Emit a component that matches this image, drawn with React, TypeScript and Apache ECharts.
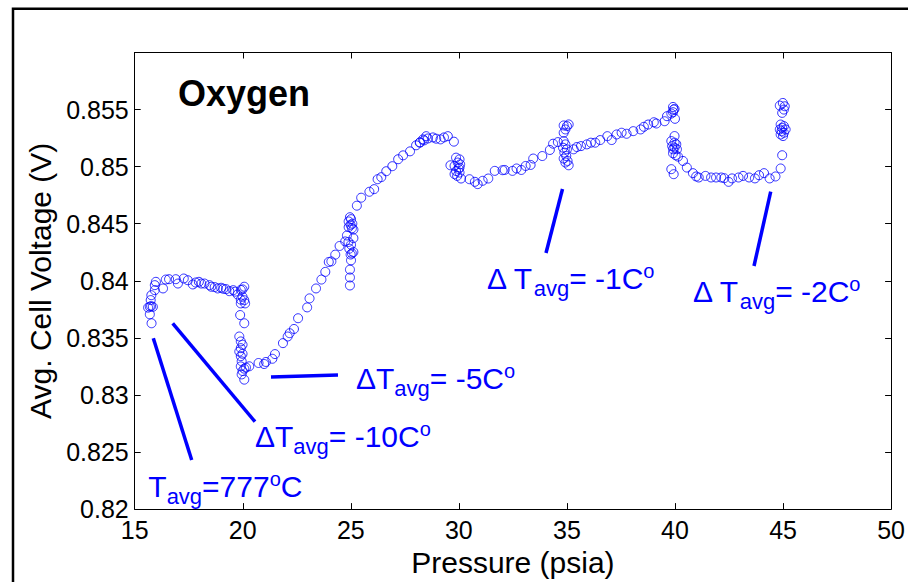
import React, { useEffect, useRef } from "react";
import * as echarts from "echarts";

// ---- data: [pressure (psia), avg. cell voltage (V)] ----
const startCluster: [number, number][] = [
  [15.78, 0.83628], [15.7, 0.83773], [15.62, 0.83765], [15.76, 0.83778], [15.84, 0.83772],
  [15.74, 0.83831], [15.77, 0.83874], [15.7, 0.83706], [15.93, 0.83962], [15.98, 0.83991], [15.93, 0.83918],
];
const plateau: [number, number][] = [
  [16.31, 0.83933], [16.44, 0.84011], [16.59, 0.84014], [16.9, 0.84014], [17.0, 0.83976], [17.27, 0.8402],
  [17.46, 0.84005], [17.69, 0.83968], [17.82, 0.83985], [17.97, 0.83991], [18.08, 0.83976], [18.23, 0.83976],
  [18.46, 0.83962], [18.54, 0.83948], [18.7, 0.83945], [18.84, 0.83933], [19.0, 0.83939], [19.1, 0.8393],
  [19.23, 0.83927], [19.38, 0.83909], [19.56, 0.83918], [19.65, 0.83905], [19.76, 0.8388],
];
const drop20: [number, number][] = [
  [20.07, 0.83948], [19.99, 0.83925], [19.91, 0.8392], [19.99, 0.8386], [20.07, 0.8383], [19.91, 0.83835],
  [19.91, 0.83802], [20.11, 0.83802], [19.88, 0.837], [20.07, 0.83628], [19.84, 0.83512], [19.91, 0.83469],
  [19.99, 0.8344], [19.91, 0.8341], [19.84, 0.8338], [19.99, 0.8336], [19.91, 0.8334], [19.95, 0.83295],
  [19.91, 0.8325], [20.07, 0.8323], [19.99, 0.8321], [19.95, 0.8318], [20.07, 0.83134], [20.15, 0.8324],
];
const climb21to25: [number, number][] = [
  [20.3, 0.83251], [20.73, 0.8328], [20.99, 0.83271], [21.07, 0.83289], [21.37, 0.83317], [21.49, 0.83358],
  [21.86, 0.83454], [22.08, 0.83512], [22.17, 0.83541], [22.37, 0.83578], [22.56, 0.83672], [22.98, 0.83767],
  [23.09, 0.83846], [23.39, 0.83933], [23.64, 0.84011], [23.82, 0.84078], [23.98, 0.84165], [24.1, 0.8417],
  [24.28, 0.84229], [24.48, 0.84305], [24.74, 0.84345], [24.82, 0.84397],
];
const step25: [number, number][] = [
  [24.96, 0.84557], [25.01, 0.8454], [24.9, 0.8452], [25.07, 0.845], [24.99, 0.8449], [24.9, 0.8447],
  [25.05, 0.8446], [25.12, 0.84449], [25.12, 0.84374], [24.89, 0.8434], [25.01, 0.84316], [24.93, 0.84281],
  [25.12, 0.84252], [25.05, 0.8424], [24.99, 0.8423], [25.01, 0.84179], [24.96, 0.84098], [24.96, 0.84029],
  [24.96, 0.83959],
];
const climb25to30: [number, number][] = [
  [25.28, 0.84658], [25.48, 0.84728], [25.86, 0.8478], [26.08, 0.84803], [26.24, 0.8489], [26.41, 0.84908],
  [26.64, 0.8496], [26.92, 0.85004], [27.19, 0.85065], [27.42, 0.85099], [27.74, 0.85134], [28.02, 0.85187],
  [28.19, 0.8521], [28.2, 0.85213], [28.34, 0.85239], [28.39, 0.8523], [28.49, 0.85267], [28.57, 0.85247],
  [28.8, 0.85256], [28.95, 0.85245], [29.15, 0.85239], [29.31, 0.85256], [29.49, 0.85267], [29.77, 0.85219],
];
const step30: [number, number][] = [
  [29.61, 0.85012], [29.87, 0.85079], [30.03, 0.85064], [29.95, 0.85036], [29.8, 0.85006], [30.03, 0.84992],
  [29.87, 0.84962], [30.03, 0.84948], [29.92, 0.84919], [30.1, 0.84896], [29.8, 0.84935], [29.99, 0.8498],
  [30.06, 0.8502],
];
const climb30to35: [number, number][] = [
  [30.49, 0.8489], [30.74, 0.84867], [30.87, 0.84847], [31.1, 0.84876], [31.36, 0.84896], [31.66, 0.84963],
  [32.02, 0.84969], [32.12, 0.84971], [32.48, 0.84963], [32.67, 0.84984], [32.89, 0.84971], [33.09, 0.85006],
  [33.32, 0.85015], [33.44, 0.85071], [33.86, 0.85093], [34.21, 0.85146], [34.36, 0.85201], [34.58, 0.85215],
];
const step35: [number, number][] = [
  [34.85, 0.85361], [35.0, 0.85355], [35.08, 0.8537], [34.93, 0.85326], [34.85, 0.85297], [34.85, 0.85224],
  [34.93, 0.85195], [34.82, 0.85166], [35.0, 0.85152], [34.88, 0.85123], [34.97, 0.85093], [34.85, 0.85071],
  [35.03, 0.8505], [34.93, 0.85036], [35.08, 0.85012],
];
const climb35to40: [number, number][] = [
  [35.31, 0.85152], [35.46, 0.85172], [35.65, 0.8518], [35.92, 0.85195], [36.11, 0.8521], [36.31, 0.8521],
  [36.54, 0.85233], [36.87, 0.85267], [37.07, 0.85233], [37.3, 0.85282], [37.53, 0.85297], [37.76, 0.85288],
  [38.07, 0.85311], [38.41, 0.85326], [38.56, 0.85349], [38.76, 0.85369], [39.02, 0.85389], [39.14, 0.85378],
  [39.52, 0.85398], [39.63, 0.85442], [39.83, 0.85465], [39.94, 0.855], [39.91, 0.85523], [40.0, 0.85419],
  [39.98, 0.85506], [39.91, 0.85477],
];
const step40: [number, number][] = [
  [39.98, 0.85268], [39.83, 0.85224], [39.98, 0.8521], [40.06, 0.85196], [39.87, 0.8518], [39.98, 0.85166],
  [40.09, 0.85152], [39.91, 0.85152], [39.91, 0.85117], [40.03, 0.851], [40.14, 0.85088], [39.83, 0.84978],
  [39.94, 0.84934],
];
const dip40to45: [number, number][] = [
  [40.37, 0.8505], [40.55, 0.84992], [40.83, 0.84943], [40.98, 0.84914], [41.1, 0.84905], [41.41, 0.84919],
  [41.67, 0.84905], [41.9, 0.84905], [42.14, 0.84905], [42.28, 0.84899], [42.48, 0.84867], [42.64, 0.84897],
  [42.94, 0.84905], [43.15, 0.84919], [43.43, 0.84905], [43.7, 0.84897], [43.89, 0.84925], [44.12, 0.84943],
  [44.38, 0.84897], [44.65, 0.84914], [44.89, 0.84984],
];
const step45: [number, number][] = [
  [44.96, 0.851], [44.89, 0.85369], [45.04, 0.85355], [44.96, 0.8534], [44.85, 0.85326], [45.12, 0.85326],
  [44.93, 0.85311], [45.04, 0.85297], [44.89, 0.85282], [45.0, 0.85268], [44.96, 0.85471], [44.85, 0.85535],
  [44.99, 0.85558], [45.08, 0.85529], [45.04, 0.855],
];

const pressureMin = 15;
const pressureMax = 50;
const pressureStep = 5;
const voltageMin = 0.82;
const voltageMax = 0.86;
const voltageStep = 0.005;

const FONT = '"Liberation Sans", Arial, Helvetica, sans-serif';
const BLUE = "#0000ff";

let measureCtx: CanvasRenderingContext2D | null = null;
function textWidth(t: string, fs: number, bold = false): number {
  if (!measureCtx) measureCtx = document.createElement("canvas").getContext("2d");
  if (!measureCtx) return t.length * fs * 0.55;
  measureCtx.font = `${bold ? "bold " : ""}${fs}px "Liberation Sans", Arial, sans-serif`;
  return measureCtx.measureText(t).width;
}

type Piece = [string, "n" | "sub" | "sup"];
const MAIN = 30;
const SUB = 22;
const SUP = 20;

function label(x0: number, base: number, pieces: Piece[]) {
  const out: any[] = [];
  let x = x0;
  for (const [t, kind] of pieces) {
    const fs = kind === "n" ? MAIN : kind === "sub" ? SUB : SUP;
    const b = kind === "n" ? base : kind === "sub" ? base + 7 : base - 11;
    out.push({
      type: "text",
      x,
      y: b - 0.3465 * fs,
      silent: true,
      style: {
        text: t,
        fontSize: fs,
        fontFamily: FONT,
        fill: BLUE,
        align: "left",
        verticalAlign: "middle",
      },
    });
    x += textWidth(t, fs);
  }
  return out;
}

function seg(x1: number, y1: number, x2: number, y2: number) {
  return {
    type: "line",
    silent: true,
    shape: { x1, y1, x2, y2 },
    style: { stroke: BLUE, lineWidth: 3.5 },
  };
}

export default function App() {
  const ref = useRef<HTMLDivElement>(null);

  useEffect(() => {
    if (!ref.current) return;
    const chart = echarts.init(ref.current, undefined, { renderer: "svg" });

    const data = [
      ...startCluster, ...plateau, ...drop20, ...climb21to25, ...step25, ...climb25to30,
      ...step30, ...climb30to35, ...step35, ...climb35to40, ...step40, ...dip40to45, ...step45,
    ];

    const axisLine = { show: true, onZero: false, lineStyle: { color: "#000", width: 1 } };
    const axisTick = { show: true, inside: true, length: 6, lineStyle: { color: "#000", width: 1 } };

    const graphic: any[] = [
      {
        type: "rect",
        silent: true,
        shape: { x: 13, y: 8.7, width: 2000, height: 2000 },
        style: { fill: "none", stroke: "#000", lineWidth: 2.5 },
      },
      {
        type: "text",
        x: 178,
        y: 106 - 0.3465 * 36,
        silent: true,
        style: {
          text: "Oxygen",
          fontSize: 36,
          fontWeight: "bold",
          fontFamily: FONT,
          fill: "#000",
          align: "left",
          verticalAlign: "middle",
        },
      },
      seg(153.3, 338.3, 191.7, 460),
      seg(172.7, 323.3, 255, 421.7),
      seg(271, 377, 338, 375),
      seg(562.5, 189, 546, 253),
      seg(770.7, 191.7, 754, 266),
      ...label(148.3, 496.7, [["T", "n"], ["avg", "sub"], ["=777", "n"], ["o", "sup"], ["C", "n"]]),
      ...label(255, 446.7, [["\u0394T", "n"], ["avg", "sub"], ["= -10C", "n"], ["o", "sup"]]),
      ...label(356, 389, [["\u0394T", "n"], ["avg", "sub"], ["= -5C", "n"], ["o", "sup"]]),
      ...label(487, 289, [["\u0394 T", "n"], ["avg", "sub"], ["= -1C", "n"], ["o", "sup"]]),
      ...label(693, 302, [["\u0394 T", "n"], ["avg", "sub"], ["= -2C", "n"], ["o", "sup"]]),
    ];

    chart.setOption({
      animation: false,
      backgroundColor: "#fff",
      textStyle: { fontFamily: FONT },
      grid: { left: 134.7, right: 11.7, top: 52.5, bottom: 70, containLabel: false },
      xAxis: [
        {
          type: "value",
          position: "bottom",
          min: pressureMin,
          max: pressureMax,
          interval: pressureStep,
          axisLine,
          axisTick,
          splitLine: { show: false },
          axisLabel: { fontSize: 25, color: "#000", margin: 8, fontFamily: FONT },
          name: "Pressure (psia)",
          nameLocation: "middle",
          nameGap: 34,
          nameTextStyle: { fontSize: 30, color: "#000", fontFamily: FONT },
        },
        {
          type: "value",
          position: "top",
          min: pressureMin,
          max: pressureMax,
          interval: pressureStep,
          axisLine,
          axisTick,
          splitLine: { show: false },
          axisLabel: { show: false },
        },
      ],
      yAxis: [
        {
          type: "value",
          position: "left",
          min: voltageMin,
          max: voltageMax,
          interval: voltageStep,
          axisLine,
          axisTick,
          splitLine: { show: false },
          axisLabel: {
            fontSize: 25,
            color: "#000",
            margin: 6,
            fontFamily: FONT,
            formatter: (v: number) => (v > voltageMax - voltageStep / 2 ? "" : String(+v.toFixed(3))),
          },
          name: "Avg. Cell Voltage (V)",
          nameLocation: "middle",
          nameGap: 78,
          nameTextStyle: { fontSize: 30, color: "#000", fontFamily: FONT },
        },
        {
          type: "value",
          position: "right",
          min: voltageMin,
          max: voltageMax,
          interval: voltageStep,
          axisLine,
          axisTick,
          splitLine: { show: false },
          axisLabel: { show: false },
        },
      ],
      series: [
        {
          type: "scatter",
          xAxisIndex: 0,
          yAxisIndex: 0,
          symbol: "circle",
          symbolSize: 9,
          silent: true,
          itemStyle: { color: "rgba(0,0,0,0)", borderColor: BLUE, borderWidth: 1 },
          emphasis: { disabled: true },
          data,
        },
      ],
      graphic,
    });

    return () => chart.dispose();
  }, []);

  return (
    <div
      ref={ref}
      style={{ position: "fixed", left: 0, top: 0, width: 908, height: 582, background: "#fff" }}
    />
  );
}
